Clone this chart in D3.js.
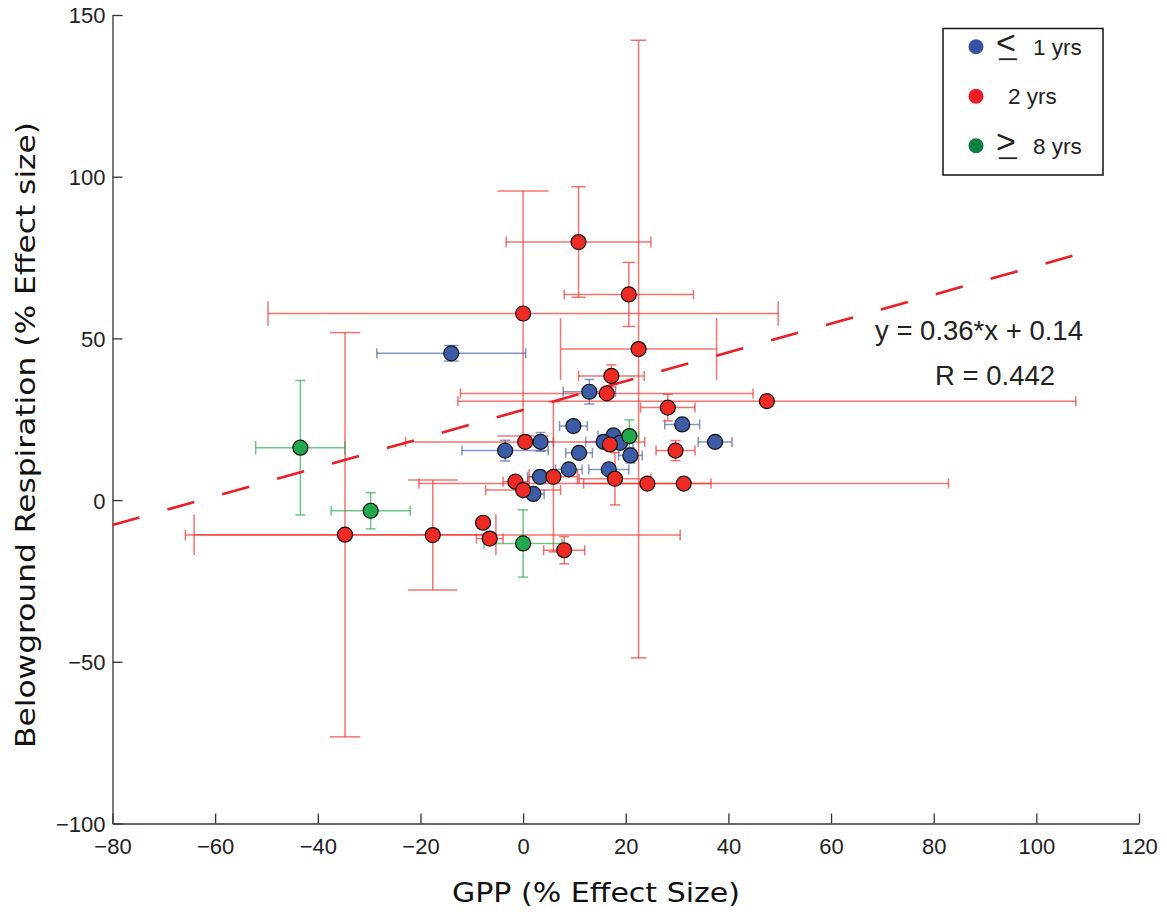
<!DOCTYPE html>
<html>
<head>
<meta charset="utf-8">
<script src="https://cdn.jsdelivr.net/npm/d3@7"></script>
<style>
  body { margin: 0; background: #fff; }
  svg { display: block; }
  .tick text { font-family: 'Liberation Sans', Arial, sans-serif; font-size: 22px; fill: #222; }
</style>
</head>
<body>
<div id="chart"></div>
<script>
// age classes
let groupLabels = ['1 yrs', '2 yrs', '8 yrs']
let groupSymbols = ['<', '', '>']

// <= 1 yr
let gppYoung = [-14.0, 12.9, 9.8, 31.0, 37.4, 17.6, 15.7, 18.9, 20.9, -3.5, 3.4, 10.9, 8.9, 16.7, 3.3, 2.0]
let respYoung = [45.4, 33.5, 22.9, 23.4, 18.0, 20.0, 18.0, 17.7, 13.8, 15.3, 18.0, 14.6, 9.5, 9.5, 7.2, 1.9]
let gppErrYoung = [14.5, 5.1, 2.7, 3.4, 3.3, 3.0, 3.5, 2.5, 2.3, 8.4, 2.5, 2.6, 2.6, 3.9, 2.4, 2.1]
let respErrYoung = [2.4, 3.8, 0, 0, 0, 0, 0, 0, 2.3, 3.2, 2.9, 0, 0, 0, 0, 0]

// 2 yrs
let gppMid = [10.8, 20.6, 0.0, 22.5, 17.2, 16.3, 47.5, 28.2, 16.9, 29.7, 0.4, 17.9, 5.9, -1.5, 0.0, 24.2, 31.3, -34.7, -17.6, -7.8, -6.5, 8.0]
let respMid = [79.8, 63.6, 57.7, 46.7, 38.4, 33.0, 30.6, 28.6, 17.2, 15.3, 18.0, 6.6, 7.2, 5.7, 3.1, 5.1, 5.1, -10.7, -10.8, -7.0, -11.9, -15.5]
let gppErrMid = [14.1, 12.6, 49.7, 15.2, 6.4, 28.5, 60.2, 5.3, 0, 3.8, 23.3, 7.0, 4.7, 2.4, 7.3, 12.4, 51.6, 29.4, 48.2, 0, 2.6, 4.0]
let respErrMid = [17.1, 9.9, 37.9, 95.5, 3.4, 0, 0, 4.1, 0, 3.1, 0, 8.1, 23.2, 0, 0, 0, 0, 62.5, 17.0, 0, 0, 4.2]

// >= 8 yrs
let gppOld = [20.7, -43.4, -29.7, 0.0]
let respOld = [19.8, 16.2, -3.3, -13.4]
let gppErrOld = [1.8, 8.7, 7.7, 7.6]
let respErrOld = [5.0, 20.8, 5.6, 10.4]

// regression line as drawn
let fitSlope = 0.445
let fitIntercept = 27.9
let fitRange = [-80, 107.5]
let fitText = ['y = 0.36*x + 0.14', 'R = 0.442']

let xTicks = [-80, -60, -40, -20, 0, 20, 40, 60, 80, 100, 120]
let yTicks = [-100, -50, 0, 50, 100, 150]

let width = 1167
let height = 915

let colors = ['#3d5ca8', '#ee2a24', '#20a84a']
let legendColors = ['#3553a4', '#ed1c24', '#0c8040']

let svg = d3
  .select('#chart')
  .append('svg')
  .attr('width', width)
  .attr('height', height)

let x = d3.scaleLinear().domain([-80, 120]).range([112.5, 1139])
let y = d3.scaleLinear().domain([-100, 150]).range([823.5, 15])

let fmt = d3.format('')

svg
  .append('g')
  .attr('transform', 'translate(0,' + y(-100) + ')')
  .call(
    d3.axisBottom(x).tickValues(xTicks).tickSizeInner(-10).tickSizeOuter(0).tickPadding(15).tickFormat(fmt)
  )

let yAxis = svg
  .append('g')
  .attr('transform', 'translate(' + x(-80) + ',0)')
  .call(
    d3.axisLeft(y).tickValues(yTicks).tickSizeInner(-10).tickSizeOuter(0).tickPadding(7).tickFormat(fmt)
  )

svg.selectAll('.domain, .tick line').attr('stroke', '#333').attr('stroke-width', 1.3)
yAxis.selectAll('.tick text').attr('dy', '0.36em')

svg
  .append('text')
  .attr('x', 596)
  .attr('y', 901.5)
  .attr('text-anchor', 'middle')
  .attr('textLength', 288)
  .attr('lengthAdjust', 'spacingAndGlyphs')
  .style('font-family', 'DejaVu Sans, sans-serif')
  .style('font-size', '26px')
  .attr('fill', '#111')
  .text('GPP (% Effect Size)')

svg
  .append('text')
  .attr('transform', 'translate(35,435) rotate(-90)')
  .attr('text-anchor', 'middle')
  .attr('textLength', 626)
  .attr('lengthAdjust', 'spacingAndGlyphs')
  .style('font-family', 'DejaVu Sans, sans-serif')
  .style('font-size', '26px')
  .attr('fill', '#111')
  .text('Belowground Respiration (% Effect size)')

let groups = [
  { gpp: gppYoung, resp: respYoung, ge: gppErrYoung, re: respErrYoung },
  { gpp: gppMid, resp: respMid, ge: gppErrMid, re: respErrMid },
  { gpp: gppOld, resp: respOld, ge: gppErrOld, re: respErrOld }
]

let points = []
groups.forEach((g, i) => {
  g.gpp.forEach((v, j) => {
    points.push({ group: i, gpp: v, resp: g.resp[j], ge: g.ge[j], re: g.re[j] })
  })
})

let pxPerX = x(1) - x(0)
let pxPerY = y(0) - y(1)

let bars = svg.append('g').attr('fill', 'none')

points.forEach(d => {
  let cx = x(d.gpp)
  let cy = y(d.resp)
  let g = bars
    .append('g')
    .attr('stroke', colors[d.group])
    .attr('stroke-opacity', 0.65)
    .attr('stroke-width', 1.5)

  if (d.ge > 0) {
    let capH = Math.max(0.1 * d.re * pxPerY, 5)
    let x0 = x(d.gpp - d.ge)
    let x1 = x(d.gpp + d.ge)
    g.append('line').attr('x1', x0).attr('x2', x1).attr('y1', cy).attr('y2', cy)
    g.append('line').attr('x1', x0).attr('x2', x0).attr('y1', cy - capH).attr('y2', cy + capH)
    g.append('line').attr('x1', x1).attr('x2', x1).attr('y1', cy - capH).attr('y2', cy + capH)
  }
  if (d.re > 0) {
    let capW = Math.max(0.1 * d.ge * pxPerX, 5)
    let y0 = y(d.resp - d.re)
    let y1 = y(d.resp + d.re)
    g.append('line').attr('x1', cx).attr('x2', cx).attr('y1', y0).attr('y2', y1)
    g.append('line').attr('x1', cx - capW).attr('x2', cx + capW).attr('y1', y0).attr('y2', y0)
    g.append('line').attr('x1', cx - capW).attr('x2', cx + capW).attr('y1', y1).attr('y2', y1)
  }
})

svg
  .append('line')
  .attr('x1', x(fitRange[0]))
  .attr('y1', y(fitSlope * fitRange[0] + fitIntercept))
  .attr('x2', x(fitRange[1]))
  .attr('y2', y(fitSlope * fitRange[1] + fitIntercept))
  .attr('stroke', '#ee1c24')
  .attr('stroke-width', 2.6)
  .attr('stroke-dasharray', '28,29')

svg
  .selectAll('.pt')
  .data(points)
  .enter()
  .append('circle')
  .attr('class', 'pt')
  .attr('cx', d => x(d.gpp))
  .attr('cy', d => y(d.resp))
  .attr('r', 7.5)
  .attr('fill', d => colors[d.group])
  .attr('stroke', '#111')
  .attr('stroke-width', 1.2)

svg
  .selectAll('.fit-text')
  .data(fitText)
  .enter()
  .append('text')
  .attr('class', 'fit-text')
  .attr('x', (d, i) => (i === 0 ? 875 : 935))
  .attr('y', (d, i) => (i === 0 ? 340 : 385))
  .style('font-family', 'Liberation Sans, Arial, sans-serif')
  .style('font-size', '27.5px')
  .attr('fill', '#222')
  .text(d => d)

// legend
let legend = svg.append('g')

legend
  .append('rect')
  .attr('x', 943)
  .attr('y', 28.5)
  .attr('width', 160)
  .attr('height', 146.5)
  .attr('fill', '#fff')
  .attr('stroke', '#111')
  .attr('stroke-width', 1.5)

let legendRows = legend
  .selectAll('.row')
  .data(groupLabels)
  .enter()
  .append('g')
  .attr('class', 'row')
  .attr('transform', (d, i) => 'translate(0,' + (46.7 + i * 49.5) + ')')

legendRows
  .append('circle')
  .attr('cx', 976)
  .attr('cy', 0)
  .attr('r', 7.5)
  .attr('fill', (d, i) => legendColors[i])

// "<" and ">" drawn with an underline, as in the source figure
let sym = legendRows.filter((d, i) => groupSymbols[i])

sym
  .append('text')
  .attr('x', 996)
  .attr('y', 7)
  .style('font-family', 'Liberation Sans, Arial, sans-serif')
  .style('font-size', '34px')
  .attr('fill', '#222')
  .text(d => groupSymbols[groupLabels.indexOf(d)])

sym
  .append('line')
  .attr('x1', 999)
  .attr('x2', 1017)
  .attr('y1', 12.5)
  .attr('y2', 12.5)
  .attr('stroke', '#222')
  .attr('stroke-width', 1.8)

legendRows
  .append('text')
  .attr('x', (d, i) => (groupSymbols[i] ? 1033 : 1008))
  .attr('y', 8)
  .style('font-family', 'Liberation Sans, Arial, sans-serif')
  .style('font-size', '22.5px')
  .attr('fill', '#222')
  .text(d => d)
</script>
</body>
</html>
